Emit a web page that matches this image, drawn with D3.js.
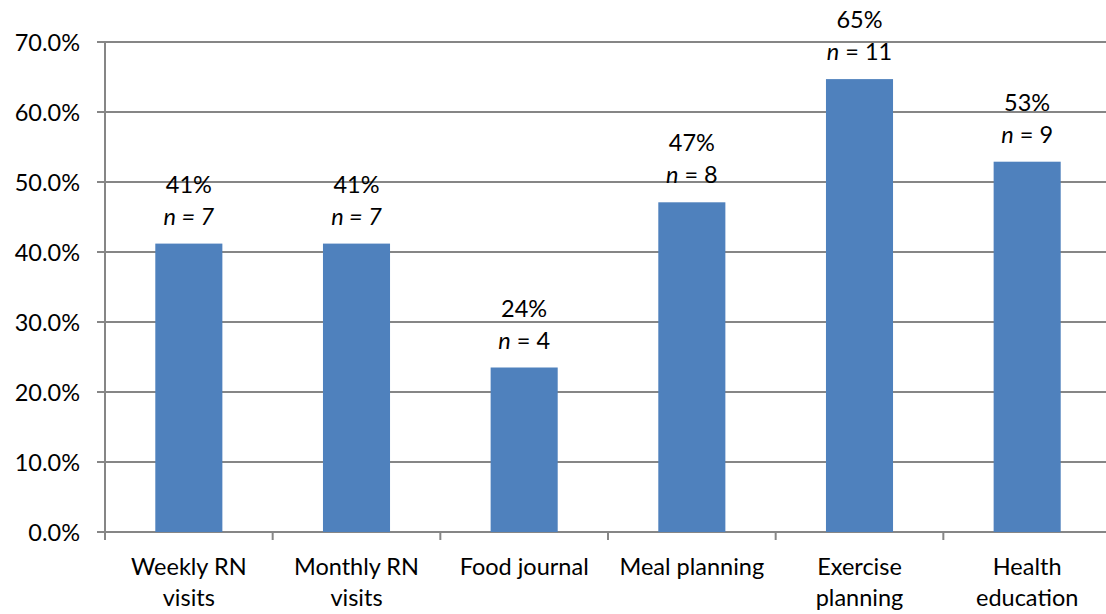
<!DOCTYPE html>
<html>
<head>
<meta charset="utf-8">
<script src="https://cdn.jsdelivr.net/npm/d3@7/dist/d3.min.js"></script>
<style>
  html, body { margin: 0; padding: 0; background: #fff; }
  svg { display: block; }
  text { font-family: Lato, "Open Sans", sans-serif; fill: #000; }
</style>
</head>
<body>
<script>
// Share of participants using each self-management strategy
const categories = [
  ["Weekly RN", "visits"],
  ["Monthly RN", "visits"],
  ["Food journal"],
  ["Meal planning"],
  ["Exercise", "planning"],
  ["Health", "education"]
];
const shares = [41.2, 41.2, 23.5, 47.1, 64.7, 52.9];
const pctLabels = ["41%", "41%", "24%", "47%", "65%", "53%"];
const counts = [7, 7, 4, 8, 11, 9];
const countItalic = [true, true, false, false, false, false];
const yTicks = [0, 10, 20, 30, 40, 50, 60, 70];

const W = 1106, H = 614;
const plot = { left: 105, right: 1111, top: 42, bottom: 532 };
const fontSize = 23.5;
const grid = "#868686";

const svg = d3.select("body").append("svg").attr("width", W).attr("height", H);

const x = d3.scaleBand().domain(d3.range(categories.length)).range([plot.left, plot.right]).padding(0);
const y = d3.scaleLinear().domain([0, 70]).range([plot.bottom, plot.top]);
const barW = x.bandwidth() * 0.4;

// horizontal gridlines
svg.append("g").selectAll("line").data(yTicks).join("line")
  .attr("x1", plot.left - 8).attr("x2", plot.right)
  .attr("y1", d => y(d)).attr("y2", d => y(d))
  .attr("stroke", grid).attr("stroke-width", 2);

// y axis
const yAxis = d3.axisLeft(y).tickValues(yTicks).tickSize(0).tickPadding(25)
  .tickFormat(d => d.toFixed(1) + "%");
const gy = svg.append("g").attr("transform", `translate(${plot.left},0)`).call(yAxis);
gy.select(".domain").remove();
gy.selectAll("text").attr("font-size", fontSize).attr("font-family", "Lato, 'Open Sans', sans-serif")
  .attr("fill", "#000").attr("dy", "0.34em");
svg.append("line").attr("x1", plot.left).attr("x2", plot.left).attr("y1", plot.top).attr("y2", plot.bottom + 8)
  .attr("stroke", grid).attr("stroke-width", 2);

// category boundary ticks
const bounds = d3.range(1, categories.length + 1).map(i => plot.left + i * x.step());
svg.append("g").selectAll("line").data(bounds).join("line")
  .attr("x1", d => d).attr("x2", d => d).attr("y1", plot.bottom).attr("y2", plot.bottom + 8)
  .attr("stroke", grid).attr("stroke-width", 2);

// bars
svg.append("g").selectAll("rect").data(shares).join("rect")
  .attr("x", (d, i) => x(i) + x.bandwidth() / 2 - barW / 2)
  .attr("width", barW)
  .attr("y", d => y(d))
  .attr("height", d => y(0) - y(d))
  .attr("fill", "#4F81BD");

// value labels
const lab = svg.append("g").attr("font-size", fontSize).attr("text-anchor", "middle");
shares.forEach((v, i) => {
  const cx = x(i) + x.bandwidth() / 2;
  lab.append("text").attr("x", cx).attr("y", y(v) - 51).text(pctLabels[i]);
  const t = lab.append("text").attr("x", cx).attr("y", y(v) - 19);
  t.append("tspan").attr("font-style", "italic").text("n");
  t.append("tspan").attr("font-style", countItalic[i] ? "italic" : "normal").text(" = " + counts[i]);
});

// category labels
const cat = svg.append("g").attr("font-size", fontSize).attr("text-anchor", "middle");
categories.forEach((lines, i) => {
  const cx = x(i) + x.bandwidth() / 2;
  lines.forEach((s, j) => {
    cat.append("text").attr("x", cx).attr("y", 575 + j * 30.7).text(s);
  });
});
</script>
</body>
</html>
